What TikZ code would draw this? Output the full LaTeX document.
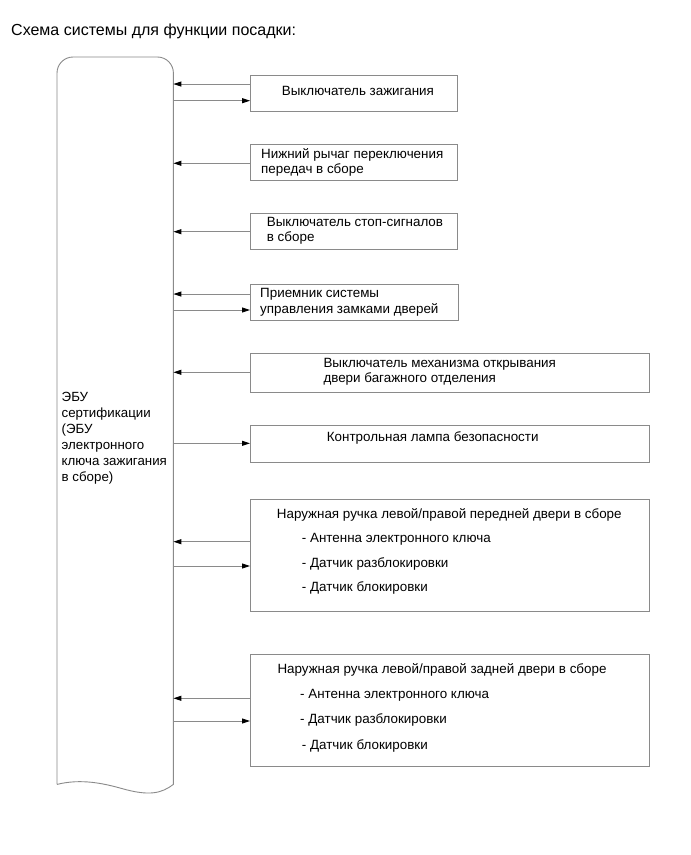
\documentclass[tikz,border=0pt]{standalone}
\usepackage{fontspec}
\setmainfont{Liberation Sans}
\usetikzlibrary{arrows.meta}
\definecolor{linegray}{HTML}{8A8A8A}
\tikzset{
  box/.style={draw=linegray, line width=0.9pt, rectangle, inner sep=0pt, anchor=north west},
  lbl/.style={anchor=west, inner sep=0pt, align=left, font=\fontsize{13.4}{15.5}\selectfont, text=black},
  conn/.style={draw=linegray, line width=0.9pt, -{Triangle[length=8pt,width=5pt,fill=black,color=black]}}
}
\begin{document}
\begin{tikzpicture}[x=1pt,y=-1pt]
\useasboundingbox (0,0) rectangle (691,855);
\fill[white] (0,0) rectangle (691,855);

\node[anchor=west, inner sep=0pt, font=\fontsize{16}{18}\selectfont] (title) at (11,31) {Схема системы для функции посадки:};

% ECU
\node[inner sep=0pt, anchor=north west, minimum width=116pt, minimum height=727pt] (ecu) at (57,57) {};
\draw[linegray, line width=0.9pt]
  (ecu.south west) -- ([yshift=-16pt]ecu.north west)
  arc[start angle=180, end angle=90, radius=16pt] -- ([xshift=-16pt]ecu.north east)
  arc[start angle=90, end angle=0, radius=16pt] -- (ecu.south east)
  .. controls ++(-12,9) and ++(28,8) .. ++(-52,4)
  .. controls ++(-18,-5) and ++(24,-6) .. (ecu.south west);
\node[lbl, font=\fontsize{13.3}{16}\selectfont] (ecutext) at (61.5,438) {ЭБУ\\сертификации\\(ЭБУ\\электронного\\ключа зажигания\\в сборе)};

% Boxes
\node[box, minimum width=206.7pt, minimum height=35.7pt] (b1) at (250,75) {};
\node[lbl] (t1) at (281.7,91) {Выключатель зажигания};

\node[box, minimum width=206.7pt, minimum height=35.7pt] (b2) at (250,144.3) {};
\node[lbl, font=\fontsize{13.4}{15}\selectfont] (t2) at (261,162.5) {Нижний рычаг переключения\\передач в сборе};

\node[box, minimum width=206.7pt, minimum height=36pt] (b3) at (250,213.3) {};
\node[lbl, font=\fontsize{13.4}{15}\selectfont] (t3) at (266.7,230.5) {Выключатель стоп-сигналов\\в сборе};

\node[box, minimum width=207.7pt, minimum height=36pt] (b4) at (250,284) {};
\node[lbl, font=\fontsize{13.4}{16}\selectfont] (t4) at (260,302) {Приемник системы\\управления замками дверей};

\node[box, minimum width=399pt, minimum height=38.8pt] (b5) at (250,352.7) {};
\node[lbl, font=\fontsize{13.4}{15.3}\selectfont] (t5) at (323.3,371.7) {Выключатель механизма открывания\\двери багажного отделения};

\node[box, minimum width=399pt, minimum height=37pt] (b6) at (250,425) {};
\node[lbl] (t6) at (326.7,438) {Контрольная лампа безопасности};

\node[box, minimum width=399.3pt, minimum height=112pt] (b7) at (250,499) {};
\node[lbl] (t7) at (276.7,515) {Наружная ручка левой/правой передней двери в сборе};
\node[lbl] (t7a) at (301.7,539.3) {- Антенна электронного ключа};
\node[lbl] (t7b) at (301.7,564.3) {- Датчик разблокировки};
\node[lbl] (t7c) at (301.7,588.3) {- Датчик блокировки};

\node[box, minimum width=399.3pt, minimum height=111.7pt] (b8) at (250,654.3) {};
\node[lbl] (t8) at (277.3,670) {Наружная ручка левой/правой задней двери в сборе};
\node[lbl] (t8a) at (300,695) {- Антенна электронного ключа};
\node[lbl] (t8b) at (300,720) {- Датчик разблокировки};
\node[lbl] (t8c) at (301.7,746) {- Датчик блокировки};

% Connector coordinates
\coordinate (e1i) at (ecu.east |- 0,84);     \coordinate (b1i) at (b1.west |- 0,84);
\coordinate (e1o) at (ecu.east |- 0,100.7);  \coordinate (b1o) at (b1.west |- 0,100.7);
\coordinate (e2i) at (ecu.east |- 0,163.3);  \coordinate (b2i) at (b2.west |- 0,163.3);
\coordinate (e3i) at (ecu.east |- 0,231.7);  \coordinate (b3i) at (b3.west |- 0,231.7);
\coordinate (e4i) at (ecu.east |- 0,294);    \coordinate (b4i) at (b4.west |- 0,294);
\coordinate (e4o) at (ecu.east |- 0,310);    \coordinate (b4o) at (b4.west |- 0,310);
\coordinate (e5i) at (ecu.east |- 0,372.3);  \coordinate (b5i) at (b5.west |- 0,372.3);
\coordinate (e6o) at (ecu.east |- 0,443.3);  \coordinate (b6o) at (b6.west |- 0,443.3);
\coordinate (e7i) at (ecu.east |- 0,541.7);  \coordinate (b7i) at (b7.west |- 0,541.7);
\coordinate (e7o) at (ecu.east |- 0,566);    \coordinate (b7o) at (b7.west |- 0,566);
\coordinate (e8i) at (ecu.east |- 0,698.3);  \coordinate (b8i) at (b8.west |- 0,698.3);
\coordinate (e8o) at (ecu.east |- 0,721);    \coordinate (b8o) at (b8.west |- 0,721);

\draw[conn] (b1i) -- (e1i);
\draw[conn] (e1o) -- (b1o);
\draw[conn] (b2i) -- (e2i);
\draw[conn] (b3i) -- (e3i);
\draw[conn] (b4i) -- (e4i);
\draw[conn] (e4o) -- (b4o);
\draw[conn] (b5i) -- (e5i);
\draw[conn] (e6o) -- (b6o);
\draw[conn] (b7i) -- (e7i);
\draw[conn] (e7o) -- (b7o);
\draw[conn] (b8i) -- (e8i);
\draw[conn] (e8o) -- (b8o);
\end{tikzpicture}
\end{document}
